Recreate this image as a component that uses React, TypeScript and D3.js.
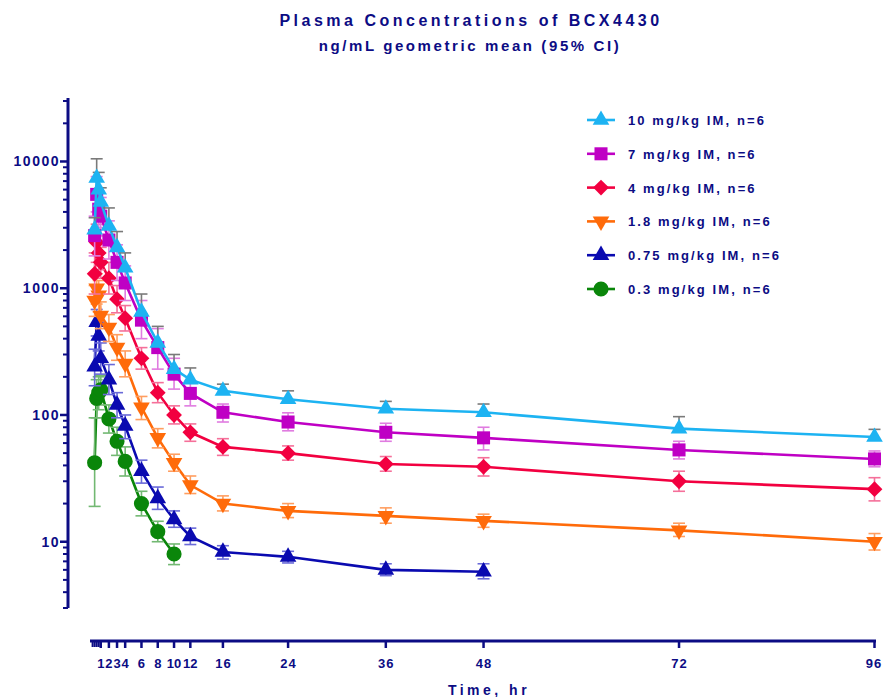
import React from "react";
import * as d3 from "d3";

// sampling times, hr
const times = [0.25, 0.5, 0.75, 1, 2, 3, 4, 6, 8, 10, 12, 16, 24, 36, 48, 72, 96];

const doseLabels = [
  "10 mg/kg IM, n=6",
  "7 mg/kg IM, n=6",
  "4 mg/kg IM, n=6",
  "1.8 mg/kg IM, n=6",
  "0.75 mg/kg IM, n=6",
  "0.3 mg/kg IM, n=6",
];

// geometric means and 95% CI, ng/mL
const mean10 = [2900, 7400, 6000, 4800, 3100, 2100, 1450, 650, 370, 230, 190, 155, 133, 112, 105, 78, 67];
const hi10 = [3600, 10500, 8200, 6200, 4300, 2800, 1900, 900, 500, 300, 235, 175, 155, 128, 122, 97, 77];

const mean7 = [2600, 5500, 4200, 3700, 2400, 1600, 1100, 560, 340, 210, 148, 105, 88, 73, 66, 53, 45];
const lo7 = [1800, 4000, 3000, 2600, 1700, 1150, 800, 400, 230, 160, 118, 88, 75, 62, 53, 45, 39];
const hi7 = [3700, 7600, 5800, 5200, 3400, 2200, 1500, 800, 480, 280, 185, 122, 104, 86, 80, 62, 52];

const mean4 = [1300, 2300, 1900, 1600, 1200, 820, 580, 280, 150, 100, 73, 56, 50, 41, 39, 30, 26];
const lo4 = [900, 1600, 1400, 1200, 900, 640, 460, 230, 125, 85, 62, 48, 44, 36, 33, 25, 21];
const hi4 = [1900, 3200, 2600, 2100, 1600, 1050, 730, 340, 180, 118, 85, 65, 57, 47, 46, 36, 32];

const mean18 = [800, 1000, 880, 610, 490, 340, 255, 115, 66, 42, 28, 20, 17.5, 16, 14.6, 12.3, 10];
const lo18 = [600, 750, 650, 480, 380, 270, 200, 92, 55, 36, 24, 17.5, 15.5, 14, 13, 11, 8.6];
const hi18 = [1050, 1300, 1150, 780, 620, 430, 320, 140, 78, 49, 33, 23, 20, 18.5, 16.5, 14, 11.6];

const mean075 = [240, 540, 420, 280, 190, 120, 82, 36, 22, 15, 11, 8.3, 7.6, 6, 5.8];
const lo075 = [170, 420, 320, 210, 145, 95, 65, 29, 18, 13, 9.5, 7.3, 6.8, 5.4, 5.1];
const hi075 = [330, 680, 540, 370, 250, 150, 100, 44, 27, 17.5, 12.8, 9.3, 8.4, 6.7, 6.7];

const mean03 = [42, 135, 150, 158, 93, 62, 43, 20, 12, 8];
const lo03 = [19, 95, 110, 120, 72, 48, 33, 16, 10, 6.6];
const hi03 = [95, 190, 200, 205, 120, 80, 56, 25, 14.5, 9.6];

const xTicks = [1, 2, 3, 4, 6, 8, 10, 12, 16, 24, 36, 48, 72, 96];
const xSmallTicks = [0, 0.25, 0.5, 0.75];
const yMajor = [10, 100, 1000, 10000];

const NAVY = "#0c0c84";
const FONT = "Arial, 'Liberation Sans', sans-serif";

const series = [
  { label: doseLabels[0], color: "#1db3f2", bar: "#7a7a7a", shape: "triUp", mean: mean10, lo: null, hi: hi10 },
  { label: doseLabels[1], color: "#bf00c4", bar: "#e07ce0", shape: "square", mean: mean7, lo: lo7, hi: hi7 },
  { label: doseLabels[2], color: "#f20040", bar: "#f5709a", shape: "diamond", mean: mean4, lo: lo4, hi: hi4 },
  { label: doseLabels[3], color: "#ff6b0a", bar: "#ff9e60", shape: "triDown", mean: mean18, lo: lo18, hi: hi18 },
  { label: doseLabels[4], color: "#0a0ab0", bar: "#6a6ad8", shape: "triUp", mean: mean075, lo: lo075, hi: hi075 },
  { label: doseLabels[5], color: "#0a860a", bar: "#72b872", shape: "circle", mean: mean03, lo: lo03, hi: hi03 },
];

const symbolPath = (shape: string) => {
  if (shape === "square") return d3.symbol(d3.symbolSquare, 170)();
  if (shape === "diamond") return d3.symbol(d3.symbolSquare, 125)();
  if (shape === "circle") return d3.symbol(d3.symbolCircle, 180)();
  return d3.symbol(d3.symbolTriangle, 120)();
};
const symbolRot = (shape: string) =>
  shape === "diamond" ? 45 : shape === "triDown" ? 180 : 0;

const App = () => {
  const x = d3.scaleLinear().domain([0, 96]).range([92.6, 874.5]);
  const y = d3.scaleLog().domain([3, 30000]).range([608, 101]);

  const yMinor: number[] = [];
  [1, 10, 100, 1000, 10000].forEach((dec) => {
    for (let k = 2; k <= 9; k++) {
      const v = dec * k;
      if (v >= 3 && v <= 30000 && !yMajor.includes(v)) yMinor.push(v);
    }
  });

  const line = d3
    .line<number>()
    .x((d, i) => x(times[i]))
    .y((d) => y(d));

  const drawOrder = series.slice().reverse();

  return (
    <svg
      width={883}
      height={697}
      style={{ position: "absolute", left: 0, top: 0, background: "#fff" }}
      fontFamily={FONT}
    >
      {/* titles */}
      <text x={471} y={26} textAnchor="middle" fontSize={16} fontWeight="bold" fill={NAVY} letterSpacing={3.5}>
        Plasma Concentrations of BCX4430
      </text>
      <text x={470} y={51} textAnchor="middle" fontSize={15} fontWeight="bold" fill={NAVY} letterSpacing={2.6}>
        ng/mL geometric mean (95% CI)
      </text>

      {/* y axis */}
      <line x1={68} x2={68} y1={98} y2={y(3)} stroke={NAVY} strokeWidth={3} />
      {yMinor.map((v) => (
        <line key={"m" + v} x1={68} x2={63} y1={y(v)} y2={y(v)} stroke={NAVY} strokeWidth={2} />
      ))}
      {yMajor.map((v) => (
        <g key={"M" + v}>
          <line x1={68} x2={60} y1={y(v)} y2={y(v)} stroke={NAVY} strokeWidth={2.5} />
          <text x={60} y={y(v) + 5} textAnchor="end" fontSize={14} fontWeight="bold" fill={NAVY} letterSpacing={1.5}>
            {v}
          </text>
        </g>
      ))}

      {/* x axis */}
      <line x1={90} x2={876} y1={641} y2={641} stroke={NAVY} strokeWidth={3} />
      {xSmallTicks.map((t) => (
        <line key={"s" + t} x1={x(t)} x2={x(t)} y1={641} y2={647} stroke={NAVY} strokeWidth={2} />
      ))}
      {xTicks.map((t) => {
        const ls = t >= 16 ? 1 : 0;
        return (
          <g key={"x" + t}>
            <line x1={x(t)} x2={x(t)} y1={641} y2={648} stroke={NAVY} strokeWidth={2.5} />
            <text x={x(t) + ls / 2 - (t === 96 ? 1 : 0)} y={668} textAnchor="middle" fontSize={13} fontWeight="bold" fill={NAVY} letterSpacing={ls}>
              {t}
            </text>
          </g>
        );
      })}
      <text x={489} y={695} textAnchor="middle" fontSize={14} fontWeight="bold" fill={NAVY} letterSpacing={3.5}>
        Time, hr
      </text>

      {/* series */}
      {drawOrder.map((s) => (
        <g key={s.label}>
          <path d={line(s.mean) || ""} fill="none" stroke={s.color} strokeWidth={2.6} />
          {s.mean.map((m, i) => {
            const cx = x(times[i]);
            const top = y(s.hi[i]);
            const bot = s.lo ? y(s.lo[i]) : y(m);
            return (
              <g key={i} stroke={s.bar} strokeWidth={1.6}>
                <line x1={cx} x2={cx} y1={top} y2={bot} />
                <line x1={cx - 6} x2={cx + 6} y1={top} y2={top} />
                {s.lo && <line x1={cx - 6} x2={cx + 6} y1={bot} y2={bot} />}
              </g>
            );
          })}
          {s.mean.map((m, i) => (
            <path
              key={"p" + i}
              d={symbolPath(s.shape) || ""}
              transform={`translate(${x(times[i])},${y(m)}) rotate(${symbolRot(s.shape)})`}
              fill={s.color}
            />
          ))}
        </g>
      ))}

      {/* legend */}
      {series.map((s, i) => {
        const ly = 120 + i * 33.8;
        return (
          <g key={"lg" + i}>
            <line x1={587} x2={615} y1={ly} y2={ly} stroke={s.color} strokeWidth={2.6} />
            <path
              d={symbolPath(s.shape) || ""}
              transform={`translate(601,${ly}) rotate(${symbolRot(s.shape)})`}
              fill={s.color}
            />
            <text x={628} y={ly + 5} fontSize={13} fontWeight="bold" fill={NAVY} letterSpacing={2.1}>
              {s.label}
            </text>
          </g>
        );
      })}
    </svg>
  );
};

export default App;
